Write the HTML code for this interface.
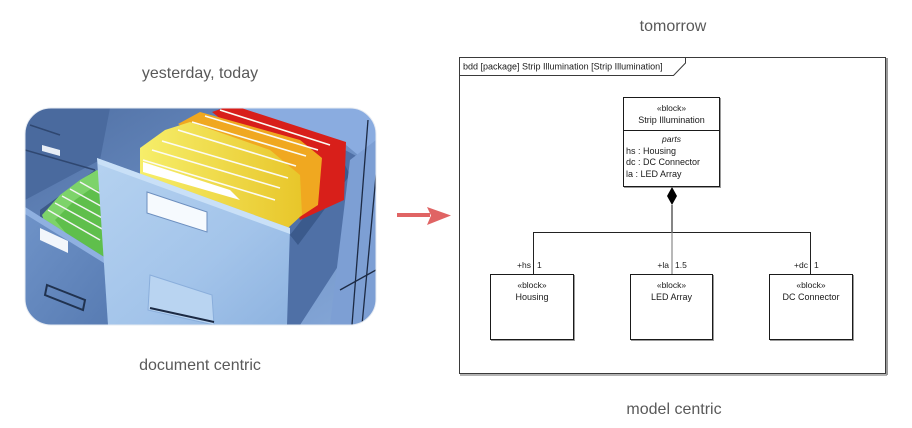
<!DOCTYPE html>
<html>
<head>
<meta charset="utf-8">
<style>
  html,body{margin:0;padding:0;background:#fff;}
  body{width:912px;height:428px;overflow:hidden;}
  svg{display:block;}
  .cap{font-family:"Liberation Sans",sans-serif;font-size:16px;fill:#595959;}
  .d{font-family:"Liberation Sans",sans-serif;font-size:9px;fill:#1a1a1a;}
  .s{font-family:"Liberation Sans",sans-serif;font-size:8.5px;fill:#1a1a1a;}
</style>
</head>
<body>
<svg width="912" height="428" viewBox="0 0 912 428" xmlns="http://www.w3.org/2000/svg">
  <defs>
    <clipPath id="img">
      <rect x="25" y="108" width="351" height="217" rx="26" ry="26"/>
    </clipPath>
    <linearGradient id="bg" x1="0" y1="0" x2="1" y2="1">
      <stop offset="0" stop-color="#4f6fa3"/>
      <stop offset="0.5" stop-color="#6a8dc2"/>
      <stop offset="1" stop-color="#86a8d8"/>
    </linearGradient>
    <linearGradient id="panel" x1="0" y1="0" x2="1" y2="1">
      <stop offset="0" stop-color="#b5d2f0"/>
      <stop offset="0.6" stop-color="#a3c4ea"/>
      <stop offset="1" stop-color="#8eb3e0"/>
    </linearGradient>
    <linearGradient id="lpanel" x1="0" y1="0" x2="1" y2="1">
      <stop offset="0" stop-color="#6f93c8"/>
      <stop offset="1" stop-color="#577bb2"/>
    </linearGradient>
    <linearGradient id="yel" x1="0" y1="0" x2="1" y2="0">
      <stop offset="0" stop-color="#f6ee6a"/>
      <stop offset="1" stop-color="#e8c62a"/>
    </linearGradient>
    <linearGradient id="floor" x1="0" y1="0" x2="0" y2="1">
      <stop offset="0" stop-color="#c8d0da"/>
      <stop offset="1" stop-color="#eef0f3"/>
    </linearGradient>
  </defs>

  <!-- Captions -->
  <text class="cap" x="200" y="78" text-anchor="middle">yesterday, today</text>
  <text class="cap" x="673" y="31" text-anchor="middle">tomorrow</text>
  <text class="cap" x="200" y="370" text-anchor="middle">document centric</text>
  <text class="cap" x="674" y="414" text-anchor="middle">model centric</text>

  <!-- Filing cabinet picture (approximation) -->
  <g clip-path="url(#img)">
    <rect x="25" y="108" width="351" height="217" fill="url(#bg)"/>
    <!-- floor bottom-left -->
    <polygon points="25,290 60,300 110,325 25,325" fill="url(#floor)"/>
    <!-- top-left cabinet drawers -->
    <polygon points="25,108 110,108 100,160 25,200" fill="#4a6a9e"/>
    <line x1="25" y1="150" x2="95" y2="170" stroke="#2f4770" stroke-width="1.5"/>
    <polygon points="42,145 60,150 60,156 42,151" fill="#e8eef6"/>
    <line x1="30" y1="125" x2="60" y2="135" stroke="#2f4770" stroke-width="1.5"/>
    <!-- top-right cabinet area -->
    <polygon points="220,108 376,108 376,170 340,140" fill="#8aace0"/>
    <!-- left drawer interior -->
    <polygon points="40,210 95,170 115,180 115,285 40,235" fill="#3d5a88"/>
    <!-- green folders -->
    <polygon points="42,215 60,195 80,180 97,170 112,178 113,282 95,268 48,232" fill="#7dd36a"/>
    <polygon points="55,220 75,200 92,188 112,196 113,282 90,262" fill="#5fbf4c"/>
    <g stroke="#f4f4f4" stroke-width="1.5">
      <line x1="48" y1="210" x2="100" y2="240"/>
      <line x1="55" y1="203" x2="104" y2="230"/>
      <line x1="62" y1="196" x2="106" y2="220"/>
      <line x1="70" y1="189" x2="108" y2="210"/>
      <line x1="80" y1="182" x2="110" y2="199"/>
    </g>
    <!-- left drawer front -->
    <polygon points="25,207 112,262 114,325 25,325" fill="url(#lpanel)"/>
    <polygon points="25,207 112,262 112,268 25,214" fill="#8fb0e0"/>
    <polygon points="40,228 68,241 68,253 40,240" fill="#f2f6fb"/>
    <polygon points="47,285 85,300 83,310 45,295" fill="none" stroke="#20324f" stroke-width="2"/>
    <!-- main drawer side (right) -->
    <polygon points="288,228 345,150 360,158 355,240 300,325 286,325" fill="#4f70a6"/>
    <polygon points="290,235 345,165 350,175 298,245" fill="#3b5a8c"/>
    <!-- right cabinet column -->
    <polygon points="350,160 376,140 376,325 330,325" fill="#7d9fd4"/>
    <g stroke="#1c2a44" stroke-width="1.3">
      <line x1="368" y1="120" x2="352" y2="325"/>
      <line x1="377" y1="165" x2="362" y2="325"/>
      <line x1="340" y1="290" x2="376" y2="270"/>
    </g>
    <!-- folders: red / orange / yellow -->
    <polygon points="212,112 232,105 346,142 344,200 300,220 285,170" fill="#d81f1a"/>
    <polygon points="178,124 200,112 300,140 322,158 318,205 292,222 250,170" fill="#f0a820"/>
    <polygon points="140,148 165,130 190,122 270,150 300,175 302,215 288,228 140,176" fill="url(#yel)"/>
    <g stroke="#fbfbf4" stroke-width="1.6">
      <line x1="143" y1="160" x2="275" y2="200"/>
      <line x1="152" y1="150" x2="280" y2="188"/>
      <line x1="162" y1="141" x2="288" y2="178"/>
      <line x1="178" y1="130" x2="296" y2="166"/>
      <line x1="192" y1="122" x2="306" y2="156"/>
      <line x1="205" y1="116" x2="318" y2="150"/>
      <line x1="220" y1="110" x2="330" y2="145"/>
    </g>
    <polygon points="143,162 230,190 240,200 143,172" fill="#ffffff"/>
    <!-- main drawer front panel -->
    <polygon points="97,158 290,228 287,325 108,325" fill="url(#panel)"/>
    <polygon points="97,158 290,228 290,234 98,164" fill="#c9e0f7"/>
    <polygon points="147,192 207,212 207,232 147,213" fill="#f6fafe" stroke="#6d8fbf" stroke-width="1"/>
    <polygon points="150,275 212,295 214,325 148,310" fill="#b9d4f1" stroke="#8aaedb" stroke-width="1"/>
    <line x1="150" y1="308" x2="214" y2="322" stroke="#1c2a44" stroke-width="2"/>
  </g>
  <rect x="25" y="108" width="351" height="217" rx="26" ry="26" fill="none" stroke="#e6ebf2" stroke-width="1"/>

  <!-- Red arrow -->
  <rect x="397" y="213" width="33" height="4" fill="#e06464"/>
  <polygon points="427,207 451,215.5 427,225 431,215.5" fill="#e06464"/>

  <!-- SysML frame -->
  <rect x="459.5" y="57.5" width="426" height="316" fill="#fff" stroke="#3a3a3a" stroke-width="1"/>
  <line x1="887" y1="58" x2="887" y2="375" stroke="#9a9a9a" stroke-width="2"/>
  <line x1="460" y1="375" x2="887" y2="375" stroke="#9a9a9a" stroke-width="1.5"/>
  <polyline points="459.5,75.5 673.5,75.5 685.5,63 685.5,57.5" fill="none" stroke="#3a3a3a" stroke-width="1"/>
  <text class="d" x="463" y="69.5">bdd [package] Strip Illumination [Strip Illumination]</text>

  <!-- Strip Illumination block -->
  <rect x="624" y="98" width="97" height="90" fill="#9a9a9a"/>
  <rect x="623.5" y="97.5" width="96" height="89" fill="#fff" stroke="#1a1a1a" stroke-width="1"/>
  <line x1="623.5" y1="130.5" x2="719.5" y2="130.5" stroke="#1a1a1a" stroke-width="1"/>
  <text class="s" x="671.5" y="111" text-anchor="middle">«block»</text>
  <text class="d" x="671.5" y="123" text-anchor="middle">Strip Illumination</text>
  <text class="s" x="671.5" y="142" text-anchor="middle" font-style="italic">parts</text>
  <text class="d" x="626" y="154">hs : Housing</text>
  <text class="d" x="626" y="165">dc : DC Connector</text>
  <text class="d" x="626" y="177">la : LED Array</text>

  <!-- Composition connector -->
  <polygon points="672,187 677,196 672,205 667,196" fill="#000"/>
  <line x1="672" y1="205" x2="672" y2="232.5" stroke="#333" stroke-width="1.2"/>
  <polyline points="533.5,274 533.5,232.5 810.5,232.5 810.5,274" fill="none" stroke="#222" stroke-width="1"/>
  <line x1="672" y1="232" x2="672" y2="274" stroke="#888" stroke-width="1.2"/>

  <!-- multiplicity labels -->
  <text class="s" x="531" y="268" text-anchor="end">+hs</text>
  <text class="s" x="537" y="268">1</text>
  <text class="s" x="669" y="268" text-anchor="end">+la</text>
  <text class="s" x="675" y="268">1.5</text>
  <text class="s" x="808" y="268" text-anchor="end">+dc</text>
  <text class="s" x="814" y="268">1</text>

  <!-- Child blocks -->
  <rect x="491" y="275" width="84" height="66" fill="#9a9a9a"/>
  <rect x="490.5" y="274.5" width="83" height="65" fill="#fff" stroke="#1a1a1a" stroke-width="1"/>
  <text class="s" x="532" y="288" text-anchor="middle">«block»</text>
  <text class="d" x="532" y="300" text-anchor="middle">Housing</text>

  <rect x="631" y="275" width="83" height="66" fill="#9a9a9a"/>
  <rect x="630.5" y="274.5" width="82" height="65" fill="#fff" stroke="#1a1a1a" stroke-width="1"/>
  <text class="s" x="671.5" y="288" text-anchor="middle">«block»</text>
  <text class="d" x="671.5" y="300" text-anchor="middle">LED Array</text>

  <rect x="770" y="275" width="84" height="66" fill="#9a9a9a"/>
  <rect x="769.5" y="274.5" width="83" height="65" fill="#fff" stroke="#1a1a1a" stroke-width="1"/>
  <text class="s" x="811" y="288" text-anchor="middle">«block»</text>
  <text class="d" x="811" y="300" text-anchor="middle">DC Connector</text>
</svg>
</body>
</html>
